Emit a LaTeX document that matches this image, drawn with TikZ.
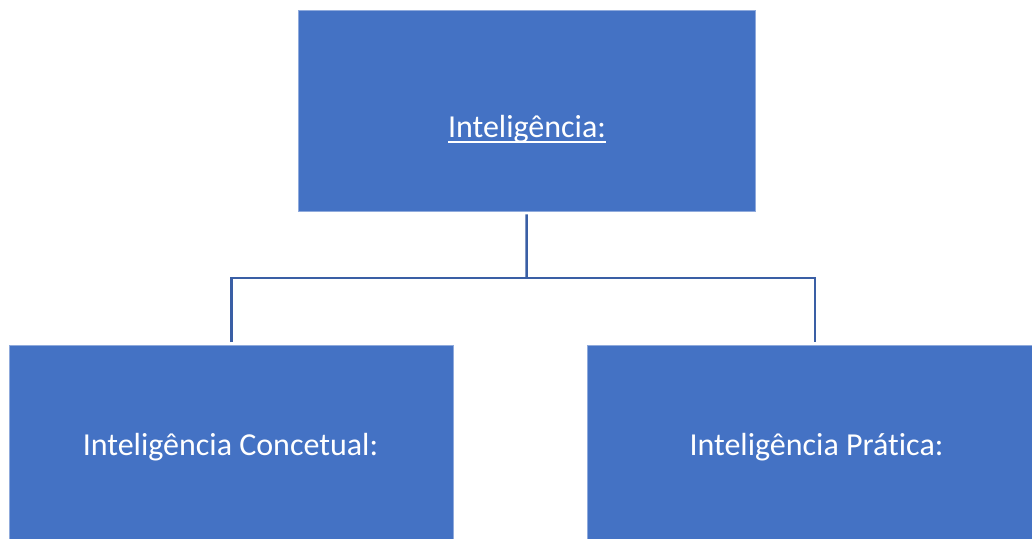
\documentclass[tikz,border=0pt]{standalone}
\usepackage{fontspec}
\setmainfont{Carlito}[Ligatures={NoCommon}]
\definecolor{boxblue}{HTML}{4472C4}
\definecolor{linkblue}{HTML}{3A5FA5}
\definecolor{edgeblue}{HTML}{8FAADC}
\begin{document}
\begin{tikzpicture}[x=1pt, y=-1pt,
		box/.style={fill=boxblue, draw=edgeblue, line width=.6pt, minimum width=#1, minimum height=201pt, inner sep=0pt},
		lbl/.style={text=white, anchor=base, inner sep=0pt, font=\fontsize{32}{38}\selectfont},
		link/.style={draw=linkblue, line width=2.5pt}]
		\useasboundingbox (0,0) rectangle (1032,538);
		\clip (0,0) rectangle (1032,538);
		\node[box=457pt] (top) at (526.5,110.5) {};
		\node[box=443.5pt] (left) at (231.25,446) {};
		\node[box=458pt] (right) at (816,446) {};
		\node[lbl] (toplbl) at (527,137) {Inteligência:};
		\draw[white, line width=1.6pt] ([yshift=-5pt]toplbl.base west) -- ([yshift=-5pt]toplbl.base east);
		\node[lbl] (leftlbl) at (230.5,455) {Inteligência Concetual:};
		\node[lbl] (rightlbl) at (816.5,455) {Inteligência Prática:};
		\coordinate (fork) at (526.7,278);
		\draw[link] ([yshift=-3pt]top.south) -- (fork);
		\draw[link] ([yshift=3pt]left.north) |- (fork) -| ([yshift=3pt,xshift=-1pt]right.north);
	\end{tikzpicture}
\end{document}
